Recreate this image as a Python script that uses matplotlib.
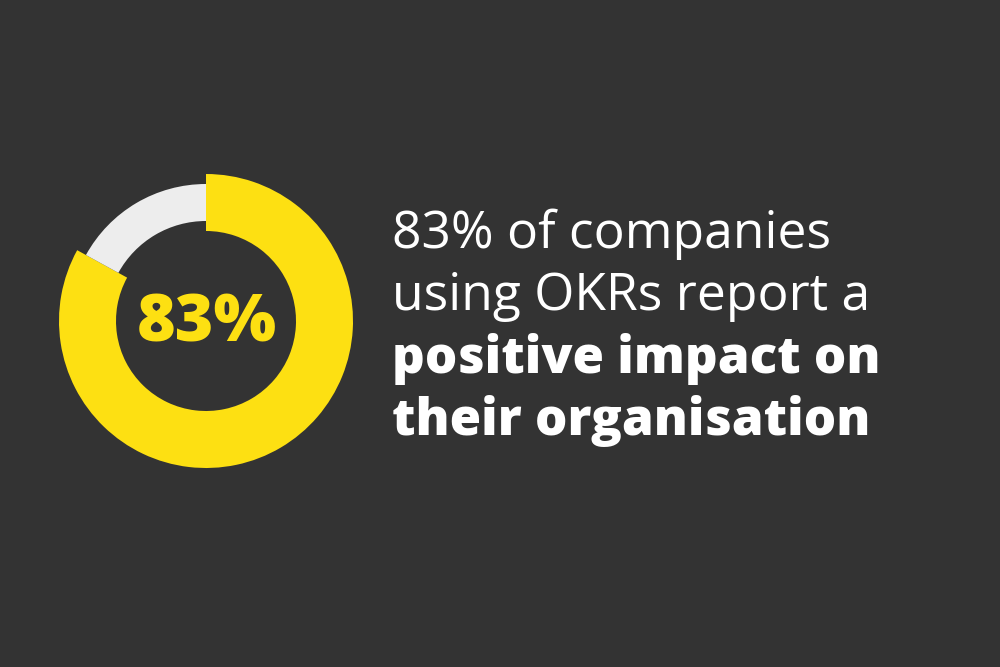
import matplotlib.pyplot as plt

# data
share = [83, 17]
big_label = "83%"
lines = ["83% of companies", "using OKRs report a", "positive impact on", "their organisation"]
bold_lines = [False, False, True, True]

bg = "#333333"
yellow = "#FDE012"
grey = "#EDEDED"

fig = plt.figure(figsize=(10, 6.67), dpi=100, facecolor=bg)
ax = fig.add_axes([0, 0, 1, 1])
ax.set_facecolor(bg)

cx, cy = 206, 667 - 321

# yellow part, thick ring
ax.pie(share, colors=[yellow, "none"], startangle=90, counterclock=False,
       radius=147, center=(cx, cy), wedgeprops=dict(width=57, linewidth=0), frame=True)
# grey remainder, thinner ring
ax.pie(share, colors=["none", grey], startangle=90, counterclock=False,
       radius=137, center=(cx, cy), wedgeprops=dict(width=37, linewidth=0), frame=True)
ax.set_xlim(0, 1000)
ax.set_ylim(0, 667)
ax.set_aspect("equal")
ax.axis("off")

ax.text(cx + 1, 667 - 342, big_label, color=yellow, fontsize=47.5, fontweight=800,
        family="Open Sans", ha="center", va="baseline")

baselines = [248, 310, 373, 435]
for txt, b, y in zip(lines, bold_lines, baselines):
    ax.text(392, 667 - y, txt, color="white", fontsize=36.7 if b else 37.2,
            fontweight=800 if b else "normal", family="Open Sans",
            ha="left", va="baseline")

fig.savefig("out.png", dpi=100, facecolor=bg)
